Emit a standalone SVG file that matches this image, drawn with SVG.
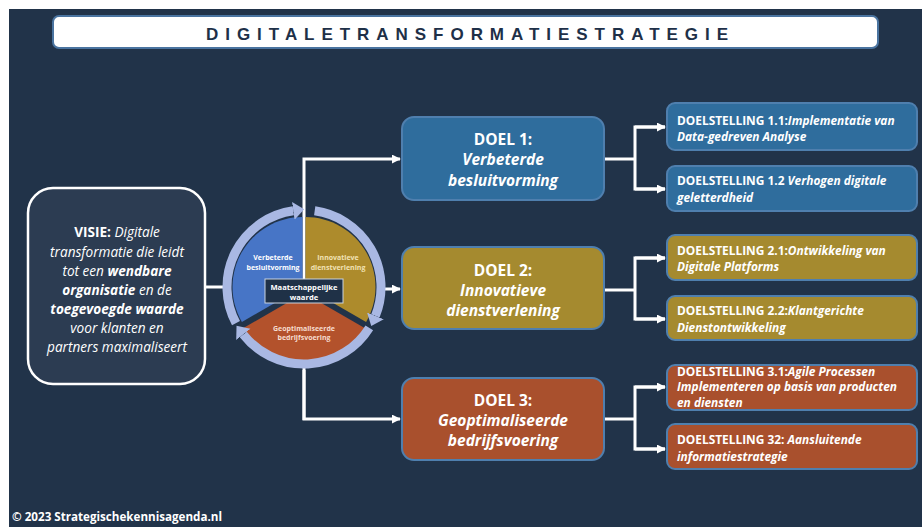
<svg xmlns="http://www.w3.org/2000/svg" width="922" height="527" viewBox="0 0 922 527">
<defs>
<style>
text{font-family:"Open Sans","Noto Sans","DejaVu Sans",sans-serif;}
.title{font-family:"Liberation Sans",Arial,sans-serif;font-weight:bold;font-size:17px;fill:#1e3048;}
.vis{font-size:13.6px;fill:#ffffff;font-style:italic;text-anchor:middle;}
.b{font-weight:bold;}
.bi{font-weight:bold;font-style:italic;}
.doel{font-size:15.5px;fill:#ffffff;font-weight:bold;text-anchor:middle;}
.ds{font-size:11.9px;fill:#ffffff;font-weight:bold;}
.sec{font-size:7px;font-weight:bold;text-anchor:middle;}
.conn{stroke:#ffffff;stroke-width:3;fill:none;}
.ring{stroke:#a9b8e3;stroke-width:9;fill:none;}
.bx{stroke:#4f7fae;stroke-width:2;}
</style>
<marker id="ah" viewBox="0 0 10 10" refX="9" refY="5" markerWidth="9" markerHeight="9" markerUnits="userSpaceOnUse" orient="auto">
<path d="M0,0 L10,5 L0,10 z" fill="#ffffff"/>
</marker>
<marker id="rh" viewBox="0 0 20 20" refX="0" refY="10" markerWidth="20" markerHeight="20" markerUnits="userSpaceOnUse" orient="auto">
<path d="M0,1 L11,10 L0,19 z" fill="#a9b8e3"/>
</marker>
</defs>

<rect x="0" y="0" width="922" height="527" fill="#ffffff"/>
<rect x="9" y="9" width="913" height="518" fill="#213349"/>

<g id="title">
<rect x="53" y="16" width="825" height="32" rx="6" fill="#ffffff" stroke="#4a74a0" stroke-width="2"/>
<text class="title" x="206" y="40" textLength="522" lengthAdjust="spacing">DIGITALETRANSFORMATIESTRATEGIE</text>
</g>

<g id="connectors">
<line class="conn" x1="205" y1="287" x2="223" y2="287"/>
<polyline class="conn" points="304,420 304,159 400,159" marker-end="url(#ah)"/>
<polyline class="conn" points="304,370 304,419 400,419" marker-end="url(#ah)"/>
<line class="conn" x1="385" y1="289" x2="400" y2="289" marker-end="url(#ah)"/>
<polyline class="conn" points="604,159 635,159"/>
<polyline class="conn" points="665,127 635,127 635,189 665,189"/>
<line class="conn" x1="635" y1="127" x2="665" y2="127" marker-end="url(#ah)"/>
<line class="conn" x1="635" y1="189" x2="665" y2="189" marker-end="url(#ah)"/>
<polyline class="conn" points="604,290 635,290"/>
<polyline class="conn" points="665,258 635,258 635,319 665,319"/>
<line class="conn" x1="635" y1="258" x2="665" y2="258" marker-end="url(#ah)"/>
<line class="conn" x1="635" y1="319" x2="665" y2="319" marker-end="url(#ah)"/>
<polyline class="conn" points="604,419 635,419"/>
<polyline class="conn" points="665,387 635,387 635,449 665,449"/>
<line class="conn" x1="635" y1="387" x2="665" y2="387" marker-end="url(#ah)"/>
<line class="conn" x1="635" y1="449" x2="665" y2="449" marker-end="url(#ah)"/>
</g>

<g id="visie">
<rect x="28" y="188" width="177" height="196" rx="25" fill="#2c3c52" stroke="#ffffff" stroke-width="2.5"/>
<text class="vis" x="117" y="237"><tspan class="b" style="font-style:normal">VISIE:</tspan> Digitale</text>
<text class="vis" x="117" y="257">transformatie die leidt</text>
<text class="vis" x="117" y="276">tot een <tspan class="bi">wendbare</tspan></text>
<text class="vis" x="117" y="295"><tspan class="bi">organisatie</tspan> en de</text>
<text class="vis" x="117" y="314"><tspan class="bi">toegevoegde waarde</tspan></text>
<text class="vis" x="117" y="333">voor klanten en</text>
<text class="vis" x="117" y="352">partners maximaliseert</text>
</g>

<g id="cyclus">
<path d="M302.5,287 L241.9,322 A70,70 0 0 1 302.5,217 Z" fill="#4775c6"/>
<path d="M305.5,287 L305.5,217 A70,70 0 0 1 366.1,322 Z" fill="#ad8b2c"/>
<path d="M304,293 L364.6,328 A70,70 0 0 1 243.4,328 Z" fill="#b3522c"/>
<path class="ring" d="M236,323.2 A77,77 0 0 1 293.3,210.8" marker-end="url(#rh)"/>
<path class="ring" d="M314.7,210.8 A77,77 0 0 1 375.4,315.9" marker-end="url(#rh)"/>
<path class="ring" d="M369.3,327.8 A77,77 0 0 1 243.3,334.4" marker-end="url(#rh)"/>
<text class="sec" x="273" y="260" fill="#ffffff">Verbeterde</text>
<text class="sec" x="273" y="270" fill="#ffffff">besluitvorming</text>
<text class="sec" x="338" y="260" fill="#f1e2b4">Innovatieve</text>
<text class="sec" x="338" y="270" fill="#f1e2b4">dienstverlening</text>
<text class="sec" x="304" y="331" fill="#f6dccf">Geoptimaliseerde</text>
<text class="sec" x="304" y="340" fill="#f6dccf">bedrijfsvoering</text>
<rect x="265" y="279" width="78" height="24" fill="#1f3147" stroke="#c9d3e0" stroke-width="1"/>
<text class="sec" x="304" y="289.5" fill="#ffffff" style="font-size:7.6px">Maatschappelijke</text>
<text class="sec" x="304" y="299.5" fill="#ffffff" style="font-size:7.6px">waarde</text>
</g>

<g id="doel1">
<rect class="bx" x="402" y="117" width="202" height="83" rx="12" fill="#2f6d9d"/>
<text class="doel" x="503" y="145">DOEL 1:</text>
<text class="doel" x="503" y="165" font-style="italic">Verbeterde</text>
<text class="doel" x="503" y="186" font-style="italic">besluitvorming</text>
</g>
<g id="doel2">
<rect class="bx" x="402" y="247" width="202" height="82" rx="12" fill="#a58a2f"/>
<text class="doel" x="503" y="276">DOEL 2:</text>
<text class="doel" x="503" y="296" font-style="italic">Innovatieve</text>
<text class="doel" x="503" y="316" font-style="italic">dienstverlening</text>
</g>
<g id="doel3">
<rect class="bx" x="402" y="378" width="202" height="82" rx="12" fill="#a9502d"/>
<text class="doel" x="503" y="406">DOEL 3:</text>
<text class="doel" x="503" y="426" font-style="italic">Geoptimaliseerde</text>
<text class="doel" x="503" y="446" font-style="italic">bedrijfsvoering</text>
</g>

<g id="ds11">
<rect class="bx" x="667" y="103" width="250" height="47" rx="8" fill="#2f6d9d"/>
<text class="ds" x="677" y="124.5">DOELSTELLING 1.1:<tspan font-style="italic">Implementatie van</tspan></text>
<text class="ds" x="677" y="140.5" font-style="italic">Data-gedreven Analyse</text>
</g>
<g id="ds12">
<rect class="bx" x="667" y="166" width="250" height="45" rx="8" fill="#2f6d9d"/>
<text class="ds" x="677" y="185">DOELSTELLING 1.2 <tspan font-style="italic">Verhogen digitale</tspan></text>
<text class="ds" x="677" y="202" font-style="italic">geletterdheid</text>
</g>
<g id="ds21">
<rect class="bx" x="667" y="235" width="250" height="45" rx="8" fill="#a58a2f"/>
<text class="ds" x="677" y="255">DOELSTELLING 2.1:<tspan font-style="italic">Ontwikkeling van</tspan></text>
<text class="ds" x="677" y="271" font-style="italic">Digitale Platforms</text>
</g>
<g id="ds22">
<rect class="bx" x="667" y="296" width="250" height="44" rx="8" fill="#a58a2f"/>
<text class="ds" x="677" y="315">DOELSTELLING 2.2:<tspan font-style="italic">Klantgerichte</tspan></text>
<text class="ds" x="677" y="331.5" font-style="italic">Dienstontwikkeling</text>
</g>
<g id="ds31">
<rect class="bx" x="667" y="365" width="250" height="45" rx="8" fill="#a9502d"/>
<text class="ds" x="677" y="376">DOELSTELLING 3.1:<tspan font-style="italic">Agile Processen</tspan></text>
<text class="ds" x="677" y="391" font-style="italic">Implementeren op basis van producten</text>
<text class="ds" x="677" y="407" font-style="italic">en diensten</text>
</g>
<g id="ds32">
<rect class="bx" x="667" y="424" width="250" height="45" rx="8" fill="#a9502d"/>
<text class="ds" x="677" y="443.5">DOELSTELLING 32: <tspan font-style="italic">Aansluitende</tspan></text>
<text class="ds" x="677" y="460.5" font-style="italic">informatiestrategie</text>
</g>

<text x="12" y="521" font-family="'Liberation Sans',Arial,sans-serif" font-size="12.5" font-weight="bold" fill="#ffffff" textLength="210" lengthAdjust="spacingAndGlyphs">© 2023 Strategischekennisagenda.nl</text>
</svg>
